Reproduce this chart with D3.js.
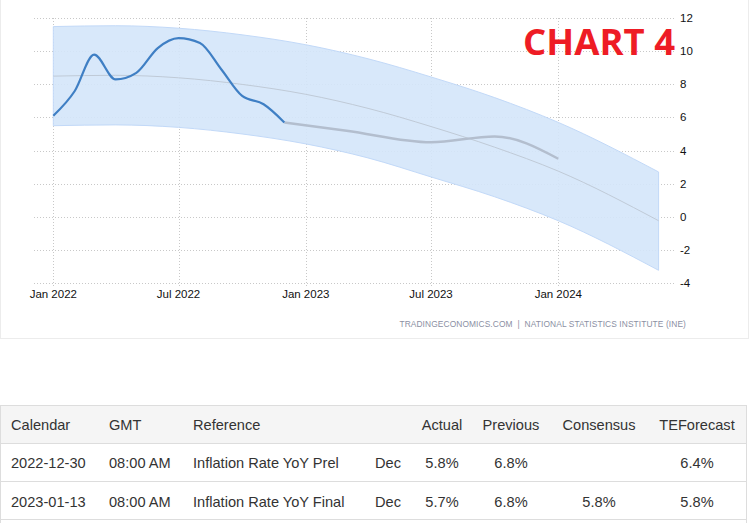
<!DOCTYPE html>
<html>
<head>
<meta charset="utf-8">
<script src="https://cdnjs.cloudflare.com/ajax/libs/d3/7.8.5/d3.min.js"></script>
<style>
  body { margin: 0; background: #fff; }
  svg { display: block; }
</style>
</head>
<body>
<script>
// actual monthly values (Spain inflation rate, %)
var actualDates = ["2022-01-01","2022-02-01","2022-03-01","2022-04-01","2022-05-01","2022-06-01",
                   "2022-07-01","2022-08-01","2022-09-01","2022-10-01","2022-11-01","2022-12-01"];
var actualValues = [6.1, 7.6, 9.8, 8.3, 8.7, 10.2, 10.8, 10.5, 8.9, 7.3, 6.8, 5.7];

// forecast line
var forecastDates = ["2022-12-01","2023-03-01","2023-07-01","2023-10-01","2024-01-01"];
var forecastValues = [5.7, 5.2, 4.5, 4.85, 3.5];

// trend and band
var bandDates = ["2022-01-01","2022-04-01","2022-07-01","2022-10-01","2023-01-01",
                 "2023-04-01","2023-07-01","2023-10-01","2024-01-01","2024-05-25"];
var trendValues = [8.5, 8.55, 8.4, 8.0, 7.4, 6.55, 5.45, 4.2, 2.75, -0.25];
var upperValues = [11.5, 11.55, 11.4, 11.0, 10.4, 9.55, 8.45, 7.2, 5.7, 2.7];
var lowerValues = [5.5, 5.55, 5.4, 5.0, 4.4, 3.55, 2.4, 1.2, -0.25, -3.25];

var xTicks = ["2022-01-01","2022-07-01","2023-01-01","2023-07-01","2024-01-01"];
var xTickLabels = ["Jan 2022","Jul 2022","Jan 2023","Jul 2023","Jan 2024"];
var yTicks = [12, 10, 8, 6, 4, 2, 0, -2, -4];

// table
var tableHeaders = ["Calendar","GMT","Reference","","Actual","Previous","Consensus","TEForecast"];
var tableRows = [
  ["2022-12-30","08:00 AM","Inflation Rate YoY Prel","Dec","5.8%","6.8%","","6.4%"],
  ["2023-01-13","08:00 AM","Inflation Rate YoY Final","Dec","5.7%","6.8%","5.8%","5.8%"]
];

var parse = d3.timeParse("%Y-%m-%d");
const width = 751, height = 523;

var svg = d3.select("body").append("svg")
    .attr("width", width)
    .attr("height", height);

var x = d3.scaleTime()
    .domain([parse("2022-01-01"), parse("2024-01-01")])
    .range([53.3, 558.3]);
var y = d3.scaleLinear()
    .domain([-4, 12])
    .range([282.7, 18.3]);

// panel border
svg.append("rect")
    .attr("x", 0.5).attr("y", -2)
    .attr("width", 748).attr("height", 340.5)
    .attr("fill", "#fff")
    .attr("stroke", "#ececec");

// grid
svg.append("g").selectAll("line")
    .data(yTicks)
    .enter().append("line")
    .attr("x1", 34).attr("x2", 675)
    .attr("y1", function(d){ return Math.round(y(d)) + 0.5; })
    .attr("y2", function(d){ return Math.round(y(d)) + 0.5; })
    .attr("stroke", "#c8c8c8")
    .attr("stroke-dasharray", "1,2");

svg.append("g").selectAll("line")
    .data(xTicks)
    .enter().append("line")
    .attr("x1", function(d){ return Math.round(x(parse(d))) + 0.5; })
    .attr("x2", function(d){ return Math.round(x(parse(d))) + 0.5; })
    .attr("y1", 18).attr("y2", 286)
    .attr("stroke", "#c8c8c8")
    .attr("stroke-dasharray", "1,2");

// band
var band = bandDates.map(function(d, i){
    return {date: parse(d), hi: upperValues[i], lo: lowerValues[i], mid: trendValues[i]};
});

svg.append("path")
    .datum(band)
    .attr("d", d3.area()
        .x(function(d){ return x(d.date); })
        .y0(function(d){ return y(d.lo); })
        .y1(function(d){ return y(d.hi); })
        .curve(d3.curveMonotoneX))
    .attr("fill", "#d4e5fa")
    .attr("fill-opacity", 0.9)
    .attr("stroke", "#c2d9f8")
    .attr("stroke-width", 1);

svg.append("path")
    .datum(band)
    .attr("d", d3.line()
        .x(function(d){ return x(d.date); })
        .y(function(d){ return y(d.mid); })
        .curve(d3.curveMonotoneX))
    .attr("fill", "none")
    .attr("stroke", "#bcc6d2")
    .attr("stroke-width", 0.9);

// forecast line
var fc = forecastDates.map(function(d, i){ return {date: parse(d), v: forecastValues[i]}; });
svg.append("path")
    .datum(fc)
    .attr("d", d3.line()
        .x(function(d){ return x(d.date); })
        .y(function(d){ return y(d.v); })
        .curve(d3.curveMonotoneX))
    .attr("fill", "none")
    .attr("stroke", "#b3bece")
    .attr("stroke-width", 2.5);

// actual line
var act = actualDates.map(function(d, i){ return {date: parse(d), v: actualValues[i]}; });
svg.append("path")
    .datum(act)
    .attr("d", d3.line()
        .x(function(d){ return x(d.date); })
        .y(function(d){ return y(d.v); })
        .curve(d3.curveMonotoneX))
    .attr("fill", "none")
    .attr("stroke", "#3f7fc4")
    .attr("stroke-width", 2.2);

// axis labels
svg.append("g").selectAll("text")
    .data(yTicks)
    .enter().append("text")
    .attr("x", 680)
    .attr("y", function(d){ return y(d) + 4; })
    .attr("font-family", "Liberation Sans, Arial, sans-serif")
    .attr("font-size", 11.5)
    .attr("fill", "#111")
    .text(function(d){ return d; });

svg.append("g").selectAll("text")
    .data(xTicks)
    .enter().append("text")
    .attr("x", function(d){ return x(parse(d)); })
    .attr("y", 298)
    .attr("text-anchor", "middle")
    .attr("font-family", "Liberation Sans, Arial, sans-serif")
    .attr("font-size", 11.5)
    .attr("fill", "#111")
    .text(function(d, i){ return xTickLabels[i]; });

svg.append("text")
    .attr("x", 686).attr("y", 327)
    .attr("text-anchor", "end")
    .attr("xml:space", "preserve")
    .attr("font-family", "Liberation Sans, Arial, sans-serif")
    .attr("font-size", 8.4)
    .attr("letter-spacing", 0.1)
    .attr("fill", "#8b8fa3")
    .text("TRADINGECONOMICS.COM  |  NATIONAL STATISTICS INSTITUTE (INE)");

// title
svg.append("text")
    .attr("x", 675).attr("y", 55)
    .attr("text-anchor", "end")
    .attr("font-family", "Open Sans, sans-serif")
    .attr("font-weight", "bold")
    .attr("font-size", 36.5)
    .attr("fill", "#ee1c25")
    .text("CHART 4");

// table
var colX = [11, 109, 193, 375, 442, 511, 599, 697];
var colAnchor = ["start","start","start","start","middle","middle","middle","middle"];
var rowTop = [405, 443, 481, 519];

svg.append("rect")
    .attr("x", 0.5).attr("y", 405.5)
    .attr("width", 746).attr("height", 38)
    .attr("fill", "#f5f5f5");

svg.append("g").selectAll("line")
    .data(rowTop)
    .enter().append("line")
    .attr("x1", 0).attr("x2", 747)
    .attr("y1", function(d){ return d + 0.5; })
    .attr("y2", function(d){ return d + 0.5; })
    .attr("stroke", "#dddddd");

svg.append("line")
    .attr("x1", 0.5).attr("x2", 0.5).attr("y1", 405).attr("y2", 523)
    .attr("stroke", "#dddddd");
svg.append("line")
    .attr("x1", 746.5).attr("x2", 746.5).attr("y1", 405).attr("y2", 523)
    .attr("stroke", "#dddddd");

svg.append("g").selectAll("text")
    .data(tableHeaders)
    .enter().append("text")
    .attr("x", function(d, i){ return colX[i]; })
    .attr("y", 430)
    .attr("text-anchor", function(d, i){ return colAnchor[i]; })
    .attr("font-family", "Liberation Sans, Arial, sans-serif")
    .attr("font-size", 14.6)
    .attr("fill", "#333")
    .text(function(d){ return d; });

tableRows.forEach(function(row, r){
    svg.append("g").selectAll("text")
        .data(row)
        .enter().append("text")
        .attr("x", function(d, i){ return colX[i]; })
        .attr("y", 468 + r * 38.5)
        .attr("text-anchor", function(d, i){ return colAnchor[i]; })
        .attr("font-family", "Liberation Sans, Arial, sans-serif")
        .attr("font-size", 14.6)
        .attr("fill", "#333")
        .text(function(d){ return d; });
});
</script>
</body>
</html>
